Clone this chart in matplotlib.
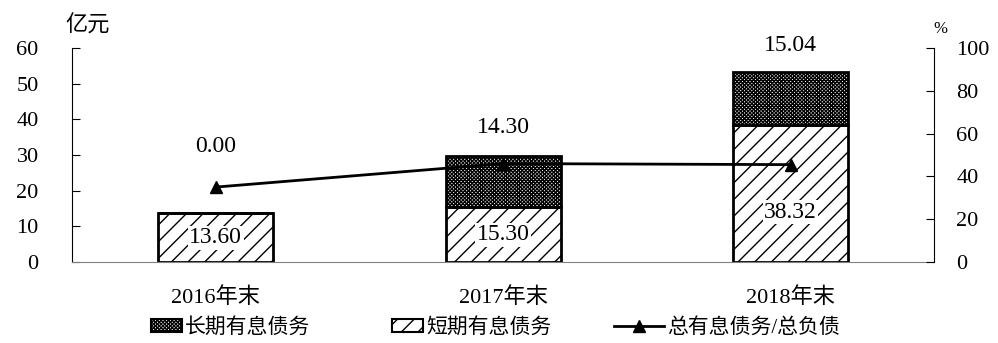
import matplotlib.pyplot as plt
from matplotlib.patches import Rectangle
from matplotlib.lines import Line2D
from matplotlib.legend_handler import HandlerPatch

plt.rcParams['font.family'] = ['Liberation Serif', 'Noto Sans CJK SC']
plt.rcParams['hatch.linewidth'] = 1.0

# Data (亿元 / %)
years = ['2016年末', '2017年末', '2018年末']
short_debt = [13.60, 15.30, 38.32]
long_debt = [0.00, 14.30, 15.04]
ratio = [35.0, 46.0, 45.5]

# label heights on the left axis
short_label_y = [6.8, 7.65, 14.0]
long_label_y = [32.5, 37.6, 60.8]

fig = plt.figure(figsize=(9.98, 3.43), dpi=100)
ax = fig.add_axes([0.0721, 0.2362, 0.8640, 0.6238])
x = list(range(len(years)))

ax.bar(x, short_debt, width=0.4, color='white', edgecolor='black',
       linewidth=2, hatch='//', zorder=2)
ax.bar(x, long_debt, width=0.4, bottom=short_debt, color='white',
       edgecolor='black', linewidth=2, hatch='xxxxxxxxx', zorder=2)

for i in x:
    ax.text(i, short_label_y[i], f'{short_debt[i]:.2f}', ha='center',
            va='center', fontsize=17, zorder=5,
            bbox=dict(facecolor='white', edgecolor='none', pad=1))
    ax.text(i, long_label_y[i], f'{long_debt[i]:.2f}', ha='center',
            va='center', fontsize=17, zorder=5)

ax.set_xlim(-0.5, 2.5)
ax.set_ylim(0, 60)
ax.set_yticks(range(0, 61, 10))
ax.set_xticks(x)
ax.set_xticklabels(years, fontsize=16)
ax.tick_params(axis='x', length=0, pad=18)
ax.tick_params(axis='y', direction='in', length=6, labelsize=16, pad=24)
ax.spines['top'].set_visible(False)
ax.spines['right'].set_visible(False)
ax.spines['bottom'].set_color('#808080')

ax2 = ax.twinx()
ax2.plot(x, ratio, color='black', linewidth=2, marker='^', markersize=8,
         zorder=4)
ax2.set_ylim(0, 100)
ax2.set_yticks(range(0, 101, 20))
ax2.tick_params(axis='y', direction='in', length=6, labelsize=16, pad=16)
for s in ['top', 'left', 'bottom']:
    ax2.spines[s].set_visible(False)

fig.text(0.088, 0.925, '亿元', ha='center', va='center', fontsize=16)
fig.text(0.942, 0.915, '%', ha='center', va='center', fontsize=12)


def small_box(legend, orig_handle, xdescent, ydescent, width, height,
              fontsize):
    w = width * 0.62
    return Rectangle((width - w - xdescent, -ydescent), w, height)


handles = [
    Rectangle((0, 0), 1, 1, facecolor='white', edgecolor='black',
              hatch='xxxxxxxxx', linewidth=1.5),
    Rectangle((0, 0), 1, 1, facecolor='white', edgecolor='black',
              hatch='//', linewidth=1.5),
    Line2D([], [], color='black', linewidth=2, marker='^', markersize=8),
]
labels = ['长期有息债务', '短期有息债务', '总有息债务/总负债']
fig.legend(handles, labels, loc='center', bbox_to_anchor=(0.487, 0.045),
           ncol=3, frameon=False, fontsize=15, handlelength=2.4,
           handleheight=0.6, handletextpad=0.15, columnspacing=3.0,
           handler_map={Rectangle: HandlerPatch(patch_func=small_box)})

fig.savefig('out.png', dpi=100)
